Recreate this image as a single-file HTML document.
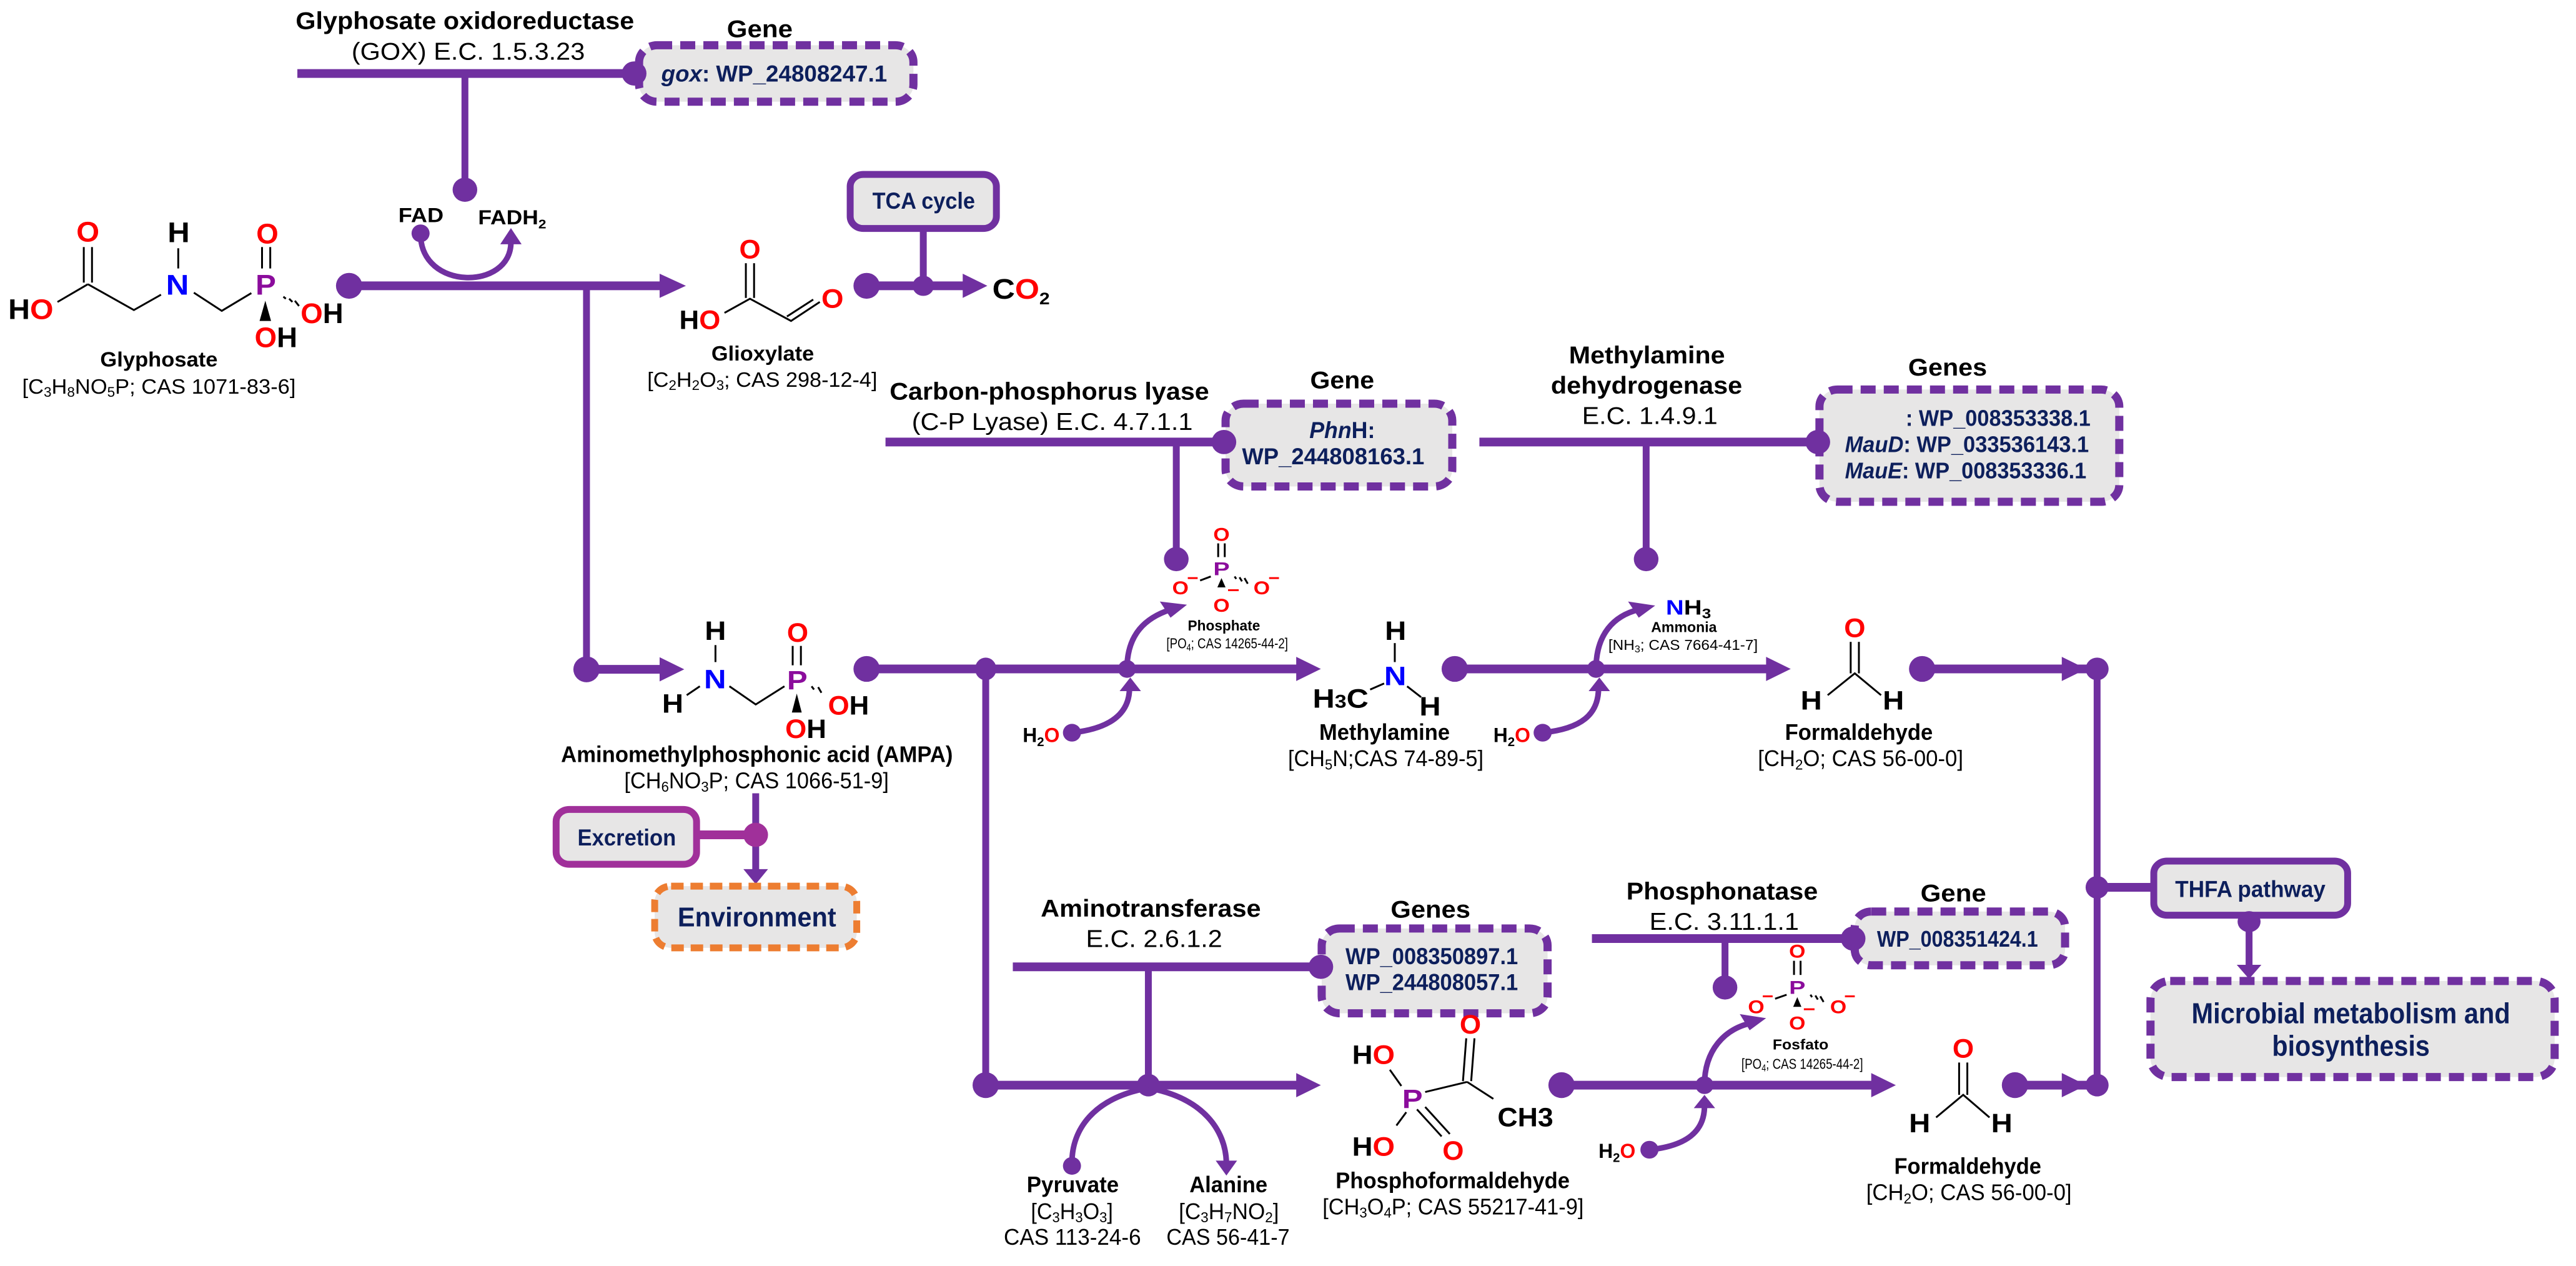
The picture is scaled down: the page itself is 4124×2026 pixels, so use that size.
<!DOCTYPE html>
<html><head><meta charset="utf-8"><style>
html,body{margin:0;padding:0;background:#fff;}
svg{display:block;}
text{font-family:"Liberation Sans",Arial,sans-serif;}
line,path,rect,polyline{vector-effect:non-scaling-stroke;}
.b{font-weight:bold;}
.nv{fill:#0d1f5c;font-weight:bold;}
.r{fill:#ff0000;}
.bl{fill:#0000ff;}
.pp{fill:#8b0c9c;}
.ln{stroke:#7030a0;fill:none;}
.bond{stroke:#000;stroke-width:3;fill:none;}
.pu{fill:#7030a0;}
.db{fill:#e7e6e6;stroke:#7030a0;stroke-width:13;stroke-dasharray:24 13;}
</style></head><body>
<svg width="4124" height="2026" viewBox="0 0 3136 3136" preserveAspectRatio="none" xmlns="http://www.w3.org/2000/svg">
<rect x="0" y="0" width="3136" height="3136" fill="#fff"/>

<!-- ===== GOX enzyme ===== -->
<text x="360" y="72" font-size="60" class="b" textLength="412" lengthAdjust="spacingAndGlyphs">Glyphosate oxidoreductase</text>
<text x="428" y="148" font-size="60" textLength="284" lengthAdjust="spacingAndGlyphs">(GOX) E.C. 1.5.3.23</text>
<text x="885" y="92" font-size="60" class="b" textLength="80" lengthAdjust="spacingAndGlyphs">Gene</text>
<rect x="778" y="112" width="334" height="140" rx="22" ry="42" class="db"/>
<text x="805" y="202" font-size="58" class="nv" textLength="275" lengthAdjust="spacingAndGlyphs"><tspan font-style="italic">gox</tspan>: WP_24808247.1</text>
<line x1="362" y1="182" x2="772" y2="182" class="ln" stroke-width="14"/>
<ellipse cx="772" cy="182" rx="15" ry="30" class="pu"/>
<line x1="566" y1="182" x2="566" y2="465" class="ln" stroke-width="11"/>
<ellipse cx="566" cy="470" rx="15" ry="30" class="pu"/>

<!-- FAD -->
<text x="485" y="550" font-size="50" class="b" textLength="55" lengthAdjust="spacingAndGlyphs">FAD</text>
<text x="582" y="556" font-size="50" class="b" textLength="83" lengthAdjust="spacingAndGlyphs">FADH<tspan font-size="32" dy="10">2</tspan></text>
<ellipse cx="512" cy="578" rx="11" ry="22" class="pu"/>
<path d="M512,580 C512,720 622,720 622,600" class="ln" stroke-width="9"/>
<polygon points="609,605 622,565 635,605" class="pu"/>

<!-- main top line -->
<line x1="425" y1="708" x2="808" y2="708" class="ln" stroke-width="14"/>
<ellipse cx="425" cy="708" rx="16" ry="32" class="pu"/>
<polygon points="803,678 835,708 803,738" class="pu"/>
<line x1="714" y1="708" x2="714" y2="1658" class="ln" stroke-width="11"/>

<!-- Glyphosate molecule -->
<text x="10" y="790" font-size="70" class="b" textLength="55" lengthAdjust="spacingAndGlyphs">H<tspan class="r">O</tspan></text>
<line x1="70" y1="748" x2="107" y2="704" class="bond"/>
<line x1="102" y1="700" x2="102" y2="612" class="bond"/>
<line x1="112" y1="700" x2="112" y2="612" class="bond"/>
<text x="93" y="598" font-size="70" class="b r" textLength="28" lengthAdjust="spacingAndGlyphs">O</text>
<polyline points="107,704 163,768 196,730" class="bond"/>
<text x="202" y="730" font-size="70" class="b bl" textLength="28" lengthAdjust="spacingAndGlyphs">N</text>
<line x1="217" y1="615" x2="217" y2="665" class="bond"/>
<text x="204" y="600" font-size="70" class="b" textLength="27" lengthAdjust="spacingAndGlyphs">H</text>
<polyline points="236,725 270,770 306,726" class="bond"/>
<text x="311" y="730" font-size="70" class="b pp" textLength="25" lengthAdjust="spacingAndGlyphs">P</text>
<line x1="319" y1="612" x2="319" y2="665" class="bond"/>
<line x1="329" y1="612" x2="329" y2="665" class="bond"/>
<text x="312" y="603" font-size="70" class="b r" textLength="27" lengthAdjust="spacingAndGlyphs">O</text>
<line x1="345" y1="735" x2="348" y2="740" class="bond"/>
<line x1="352" y1="740" x2="356" y2="748" class="bond"/>
<line x1="359" y1="745" x2="364" y2="758" class="bond"/>
<text x="366" y="800" font-size="70" class="b" textLength="52" lengthAdjust="spacingAndGlyphs"><tspan class="r">O</tspan>H</text>
<polygon points="323,745 316,795 330,795" fill="#000"/>
<text x="310" y="860" font-size="70" class="b" textLength="52" lengthAdjust="spacingAndGlyphs"><tspan class="r">O</tspan>H</text>
<text x="122" y="908" font-size="52" class="b" textLength="143" lengthAdjust="spacingAndGlyphs">Glyphosate</text>
<text x="27" y="975" font-size="52" textLength="333" lengthAdjust="spacingAndGlyphs">[C<tspan font-size="34" dy="8">3</tspan><tspan dy="-8">H</tspan><tspan font-size="34" dy="8">8</tspan><tspan dy="-8">NO</tspan><tspan font-size="34" dy="8">5</tspan><tspan dy="-8">P; CAS 1071-83-6]</tspan></text>

<!-- Glioxylate -->
<text x="900" y="640" font-size="66" class="b r" textLength="26" lengthAdjust="spacingAndGlyphs">O</text>
<line x1="908" y1="652" x2="908" y2="738" class="bond"/>
<line x1="918" y1="652" x2="918" y2="738" class="bond"/>
<polyline points="882,775 913,740 963,795 998,748" class="bond"/>
<line x1="958" y1="784" x2="990" y2="742" class="bond"/>
<text x="827" y="815" font-size="66" class="b" textLength="50" lengthAdjust="spacingAndGlyphs">H<tspan class="r">O</tspan></text>
<text x="1000" y="762" font-size="66" class="b r" textLength="27" lengthAdjust="spacingAndGlyphs">O</text>
<text x="866" y="893" font-size="52" class="b" textLength="125" lengthAdjust="spacingAndGlyphs">Glioxylate</text>
<text x="788" y="958" font-size="52" textLength="280" lengthAdjust="spacingAndGlyphs">[C<tspan font-size="34" dy="8">2</tspan><tspan dy="-8">H</tspan><tspan font-size="34" dy="8">2</tspan><tspan dy="-8">O</tspan><tspan font-size="34" dy="8">3</tspan><tspan dy="-8">; CAS 298-12-4]</tspan></text>

<!-- TCA -->
<rect x="1035" y="432" width="178" height="134" rx="16" ry="30" fill="#e7e6e6" stroke="#7030a0" stroke-width="11"/>
<text x="1062" y="517" font-size="58" class="nv" textLength="125" lengthAdjust="spacingAndGlyphs">TCA cycle</text>
<line x1="1124" y1="566" x2="1124" y2="708" class="ln" stroke-width="11"/>
<line x1="1055" y1="708" x2="1178" y2="708" class="ln" stroke-width="14"/>
<ellipse cx="1055" cy="708" rx="16" ry="32" class="pu"/>
<ellipse cx="1124" cy="708" rx="13" ry="25" class="pu"/>
<polygon points="1172,678 1202,708 1172,738" class="pu"/>
<text x="1208" y="740" font-size="70" class="b" textLength="70" lengthAdjust="spacingAndGlyphs">C<tspan class="r">O</tspan><tspan font-size="42" dy="14">2</tspan></text>

<!-- C-P lyase -->
<text x="1083" y="990" font-size="60" class="b" textLength="389" lengthAdjust="spacingAndGlyphs">Carbon-phosphorus lyase</text>
<text x="1110" y="1065" font-size="60" textLength="342" lengthAdjust="spacingAndGlyphs">(C-P Lyase) E.C. 4.7.1.1</text>
<text x="1595" y="962" font-size="60" class="b" textLength="78" lengthAdjust="spacingAndGlyphs">Gene</text>
<rect x="1492" y="1000" width="276" height="205" rx="22" ry="42" class="db"/>
<text x="1594" y="1085" font-size="58" class="nv" textLength="80" lengthAdjust="spacingAndGlyphs"><tspan font-style="italic">Phn</tspan>H:</text>
<text x="1512" y="1150" font-size="58" class="nv" textLength="222" lengthAdjust="spacingAndGlyphs">WP_244808163.1</text>
<line x1="1078" y1="1095" x2="1490" y2="1095" class="ln" stroke-width="14"/>
<ellipse cx="1490" cy="1095" rx="15" ry="30" class="pu"/>
<line x1="1432" y1="1095" x2="1432" y2="1380" class="ln" stroke-width="11"/>
<ellipse cx="1432" cy="1385" rx="15" ry="30" class="pu"/>

<!-- Phosphate -->
<text x="1477" y="1340" font-size="46" class="b r" textLength="20" lengthAdjust="spacingAndGlyphs">O</text>
<line x1="1483" y1="1346" x2="1483" y2="1380" class="bond" stroke-width="2"/>
<line x1="1491" y1="1346" x2="1491" y2="1380" class="bond" stroke-width="2"/>
<text x="1477" y="1425" font-size="46" class="b pp" textLength="20" lengthAdjust="spacingAndGlyphs">P</text>
<text x="1427" y="1472" font-size="46" class="b r" textLength="20" lengthAdjust="spacingAndGlyphs">O</text>
<line x1="1446" y1="1432" x2="1458" y2="1432" stroke="#f00" stroke-width="3"/>
<line x1="1461" y1="1438" x2="1474" y2="1428" class="bond" stroke-width="2"/>
<text x="1526" y="1472" font-size="46" class="b r" textLength="20" lengthAdjust="spacingAndGlyphs">O</text>
<line x1="1545" y1="1432" x2="1557" y2="1432" stroke="#f00" stroke-width="3"/>
<line x1="1503" y1="1428" x2="1505" y2="1434" class="bond" stroke-width="2"/>
<line x1="1509" y1="1430" x2="1512" y2="1440" class="bond" stroke-width="2"/>
<line x1="1515" y1="1432" x2="1519" y2="1446" class="bond" stroke-width="2"/>
<polygon points="1487,1432 1482,1455 1492,1455" fill="#000"/>
<line x1="1495" y1="1462" x2="1508" y2="1462" stroke="#f00" stroke-width="3"/>
<text x="1477" y="1515" font-size="46" class="b r" textLength="20" lengthAdjust="spacingAndGlyphs">O</text>
<text x="1446" y="1562" font-size="36" class="b" textLength="88" lengthAdjust="spacingAndGlyphs">Phosphate</text>
<text x="1420" y="1606" font-size="36" textLength="148" lengthAdjust="spacingAndGlyphs">[PO<tspan font-size="24" dy="6">4</tspan><tspan dy="-6">; CAS 14265-44-2]</tspan></text>

<!-- Methylamine dehydrogenase -->
<text x="1910" y="900" font-size="60" class="b" textLength="190" lengthAdjust="spacingAndGlyphs">Methylamine</text>
<text x="1888" y="975" font-size="60" class="b" textLength="233" lengthAdjust="spacingAndGlyphs">dehydrogenase</text>
<text x="1926" y="1050" font-size="60" textLength="165" lengthAdjust="spacingAndGlyphs">E.C. 1.4.9.1</text>
<text x="2323" y="930" font-size="60" class="b" textLength="96" lengthAdjust="spacingAndGlyphs">Genes</text>
<rect x="2215" y="965" width="365" height="278" rx="22" ry="42" class="db"/>
<text x="2320" y="1055" font-size="56" class="nv" textLength="225" lengthAdjust="spacingAndGlyphs">: WP_008353338.1</text>
<text x="2246" y="1120" font-size="56" class="nv" textLength="297" lengthAdjust="spacingAndGlyphs"><tspan font-style="italic">MauD</tspan>: WP_033536143.1</text>
<text x="2246" y="1185" font-size="56" class="nv" textLength="294" lengthAdjust="spacingAndGlyphs"><tspan font-style="italic">MauE</tspan>: WP_008353336.1</text>
<line x1="1801" y1="1095" x2="2213" y2="1095" class="ln" stroke-width="14"/>
<ellipse cx="2213" cy="1095" rx="15" ry="30" class="pu"/>
<line x1="2004" y1="1095" x2="2004" y2="1380" class="ln" stroke-width="11"/>
<ellipse cx="2004" cy="1385" rx="15" ry="30" class="pu"/>

<!-- NH3 -->
<text x="2028" y="1522" font-size="52" class="b" textLength="55" lengthAdjust="spacingAndGlyphs"><tspan class="bl">N</tspan>H<tspan font-size="34" dy="10">3</tspan></text>
<text x="2010" y="1566" font-size="36" class="b" textLength="80" lengthAdjust="spacingAndGlyphs">Ammonia</text>
<text x="1958" y="1610" font-size="36" textLength="182" lengthAdjust="spacingAndGlyphs">[NH<tspan font-size="24" dy="6">3</tspan><tspan dy="-6">; CAS 7664-41-7]</tspan></text>

<!-- ===== AMPA row ===== -->
<ellipse cx="714" cy="1658" rx="16" ry="32" class="pu"/>
<line x1="714" y1="1658" x2="808" y2="1658" class="ln" stroke-width="14"/>
<polygon points="803,1628 833,1658 803,1688" class="pu"/>
<text x="858" y="1585" font-size="66" class="b" textLength="26" lengthAdjust="spacingAndGlyphs">H</text>
<line x1="871" y1="1598" x2="871" y2="1640" class="bond"/>
<text x="857" y="1705" font-size="66" class="b bl" textLength="27" lengthAdjust="spacingAndGlyphs">N</text>
<line x1="852" y1="1700" x2="836" y2="1722" class="bond"/>
<text x="806" y="1765" font-size="66" class="b" textLength="26" lengthAdjust="spacingAndGlyphs">H</text>
<polyline points="888,1700 920,1745 955,1700" class="bond"/>
<text x="958" y="1708" font-size="66" class="b pp" textLength="25" lengthAdjust="spacingAndGlyphs">P</text>
<line x1="965" y1="1600" x2="965" y2="1648" class="bond"/>
<line x1="975" y1="1600" x2="975" y2="1648" class="bond"/>
<text x="958" y="1590" font-size="66" class="b r" textLength="26" lengthAdjust="spacingAndGlyphs">O</text>
<line x1="988" y1="1700" x2="991" y2="1708" class="bond"/>
<line x1="996" y1="1702" x2="1000" y2="1716" class="bond"/>
<text x="1008" y="1770" font-size="66" class="b" textLength="50" lengthAdjust="spacingAndGlyphs"><tspan class="r">O</tspan>H</text>
<polygon points="970,1718 964,1765 976,1765" fill="#000"/>
<text x="956" y="1828" font-size="66" class="b" textLength="50" lengthAdjust="spacingAndGlyphs"><tspan class="r">O</tspan>H</text>
<text x="683" y="1888" font-size="56" class="b" textLength="477" lengthAdjust="spacingAndGlyphs">Aminomethylphosphonic acid (AMPA)</text>
<text x="760" y="1953" font-size="56" textLength="322" lengthAdjust="spacingAndGlyphs">[CH<tspan font-size="36" dy="8">6</tspan><tspan dy="-8">NO</tspan><tspan font-size="36" dy="8">3</tspan><tspan dy="-8">P; CAS 1066-51-9]</tspan></text>

<!-- Excretion / Environment -->
<line x1="920" y1="1965" x2="920" y2="2160" class="ln" stroke-width="11"/>
<polygon points="905,2153 920,2190 935,2153" class="pu"/>
<rect x="677" y="2005" width="171" height="136" rx="16" ry="30" fill="#e7e6e6" stroke="#a0309a" stroke-width="11"/>
<text x="703" y="2094" font-size="58" class="nv" textLength="120" lengthAdjust="spacingAndGlyphs">Excretion</text>
<line x1="848" y1="2068" x2="920" y2="2068" stroke="#a0309a" stroke-width="14"/>
<ellipse cx="920" cy="2068" rx="15" ry="30" fill="#a0309a"/>
<rect x="797" y="2195" width="246" height="153" rx="20" ry="38" fill="#e7e6e6" stroke="#ed7d31" stroke-width="11" stroke-dasharray="20 11"/>
<text x="825" y="2295" font-size="68" class="nv" textLength="193" lengthAdjust="spacingAndGlyphs">Environment</text>

<!-- upper main line -->
<line x1="1055" y1="1657" x2="1585" y2="1657" class="ln" stroke-width="14"/>
<ellipse cx="1055" cy="1657" rx="16" ry="32" class="pu"/>
<ellipse cx="1200" cy="1657" rx="13" ry="28" class="pu"/>
<ellipse cx="1372" cy="1657" rx="11" ry="22" class="pu"/>
<polygon points="1578,1627 1608,1657 1578,1687" class="pu"/>
<line x1="1200" y1="1657" x2="1200" y2="2688" class="ln" stroke-width="11"/>

<text x="1245" y="1838" font-size="50" class="b" textLength="45" lengthAdjust="spacingAndGlyphs">H<tspan font-size="32" dy="10">2</tspan><tspan class="r" dy="-10">O</tspan></text>
<ellipse cx="1305" cy="1815" rx="11" ry="22" class="pu"/>
<path d="M1305,1815 C1350,1805 1375,1770 1375,1705" class="ln" stroke-width="9"/>
<polygon points="1363,1712 1376,1678 1389,1712" class="pu"/>
<path d="M1372,1657 C1372,1570 1395,1530 1425,1510" class="ln" stroke-width="9"/>
<polygon points="1412,1490 1445,1498 1425,1530" class="pu"/>

<!-- Methylamine -->
<text x="1686" y="1585" font-size="66" class="b" textLength="26" lengthAdjust="spacingAndGlyphs">H</text>
<line x1="1698" y1="1593" x2="1698" y2="1640" class="bond"/>
<text x="1685" y="1697" font-size="66" class="b bl" textLength="27" lengthAdjust="spacingAndGlyphs">N</text>
<text x="1598" y="1753" font-size="66" class="b" textLength="68" lengthAdjust="spacingAndGlyphs">H<tspan font-size="46">3</tspan>C</text>
<line x1="1668" y1="1708" x2="1685" y2="1693" class="bond"/>
<line x1="1713" y1="1700" x2="1730" y2="1727" class="bond"/>
<text x="1728" y="1772" font-size="66" class="b" textLength="26" lengthAdjust="spacingAndGlyphs">H</text>
<text x="1606" y="1833" font-size="56" class="b" textLength="159" lengthAdjust="spacingAndGlyphs">Methylamine</text>
<text x="1568" y="1898" font-size="56" textLength="238" lengthAdjust="spacingAndGlyphs">[CH<tspan font-size="36" dy="8">5</tspan><tspan dy="-8">N;CAS 74-89-5]</tspan></text>

<line x1="1771" y1="1657" x2="2155" y2="1657" class="ln" stroke-width="14"/>
<ellipse cx="1771" cy="1657" rx="16" ry="32" class="pu"/>
<ellipse cx="1943" cy="1657" rx="11" ry="22" class="pu"/>
<polygon points="2150,1627 2180,1657 2150,1687" class="pu"/>
<text x="1818" y="1838" font-size="50" class="b" textLength="45" lengthAdjust="spacingAndGlyphs">H<tspan font-size="32" dy="10">2</tspan><tspan class="r" dy="-10">O</tspan></text>
<ellipse cx="1878" cy="1815" rx="11" ry="22" class="pu"/>
<path d="M1878,1815 C1925,1805 1946,1770 1946,1705" class="ln" stroke-width="9"/>
<polygon points="1934,1712 1947,1678 1960,1712" class="pu"/>
<path d="M1943,1657 C1943,1570 1965,1525 1995,1510" class="ln" stroke-width="9"/>
<polygon points="1982,1490 2015,1500 1995,1530" class="pu"/>

<!-- Formaldehyde upper -->
<text x="2245" y="1578" font-size="66" class="b r" textLength="26" lengthAdjust="spacingAndGlyphs">O</text>
<line x1="2253" y1="1590" x2="2253" y2="1668" class="bond"/>
<line x1="2263" y1="1590" x2="2263" y2="1668" class="bond"/>
<polyline points="2225,1722 2258,1668 2290,1722" class="bond"/>
<text x="2192" y="1758" font-size="66" class="b" textLength="26" lengthAdjust="spacingAndGlyphs">H</text>
<text x="2292" y="1758" font-size="66" class="b" textLength="26" lengthAdjust="spacingAndGlyphs">H</text>
<text x="2173" y="1833" font-size="56" class="b" textLength="180" lengthAdjust="spacingAndGlyphs">Formaldehyde</text>
<text x="2140" y="1898" font-size="56" textLength="250" lengthAdjust="spacingAndGlyphs">[CH<tspan font-size="36" dy="8">2</tspan><tspan dy="-8">O; CAS 56-00-0]</tspan></text>

<line x1="2340" y1="1657" x2="2545" y2="1657" class="ln" stroke-width="14"/>
<ellipse cx="2340" cy="1657" rx="16" ry="32" class="pu"/>
<polygon points="2510,1627 2540,1657 2510,1687" class="pu"/>
<line x1="2553" y1="1657" x2="2553" y2="2688" class="ln" stroke-width="11"/>
<ellipse cx="2553" cy="1657" rx="14" ry="28" class="pu"/>
<ellipse cx="2553" cy="2198" rx="14" ry="28" class="pu"/>
<ellipse cx="2553" cy="2688" rx="14" ry="28" class="pu"/>

<!-- THFA -->
<line x1="2553" y1="2198" x2="2622" y2="2198" class="ln" stroke-width="14"/>
<rect x="2622" y="2133" width="236" height="134" rx="16" ry="30" fill="#e7e6e6" stroke="#7030a0" stroke-width="11"/>
<text x="2648" y="2222" font-size="58" class="nv" textLength="183" lengthAdjust="spacingAndGlyphs">THFA pathway</text>
<ellipse cx="2738" cy="2283" rx="14" ry="26" class="pu"/>
<line x1="2738" y1="2283" x2="2738" y2="2400" class="ln" stroke-width="11"/>
<polygon points="2723,2390 2738,2425 2753,2390" class="pu"/>
<rect x="2618" y="2430" width="492" height="238" rx="24" ry="46" class="db"/>
<text x="2668" y="2535" font-size="72" class="nv" textLength="388" lengthAdjust="spacingAndGlyphs">Microbial metabolism and</text>
<text x="2766" y="2615" font-size="72" class="nv" textLength="192" lengthAdjust="spacingAndGlyphs">biosynthesis</text>

<!-- ===== Aminotransferase ===== -->
<text x="1267" y="2271" font-size="60" class="b" textLength="268" lengthAdjust="spacingAndGlyphs">Aminotransferase</text>
<text x="1322" y="2346" font-size="60" textLength="166" lengthAdjust="spacingAndGlyphs">E.C. 2.6.1.2</text>
<text x="1693" y="2273" font-size="60" class="b" textLength="97" lengthAdjust="spacingAndGlyphs">Genes</text>
<rect x="1609" y="2300" width="275" height="210" rx="22" ry="42" class="db"/>
<text x="1638" y="2388" font-size="58" class="nv" textLength="210" lengthAdjust="spacingAndGlyphs">WP_008350897.1</text>
<text x="1638" y="2453" font-size="58" class="nv" textLength="210" lengthAdjust="spacingAndGlyphs">WP_244808057.1</text>
<line x1="1233" y1="2395" x2="1608" y2="2395" class="ln" stroke-width="14"/>
<ellipse cx="1608" cy="2395" rx="15" ry="30" class="pu"/>
<line x1="1398" y1="2395" x2="1398" y2="2688" class="ln" stroke-width="11"/>

<!-- lower main line -->
<line x1="1200" y1="2688" x2="1585" y2="2688" class="ln" stroke-width="14"/>
<ellipse cx="1200" cy="2688" rx="16" ry="32" class="pu"/>
<ellipse cx="1398" cy="2688" rx="14" ry="28" class="pu"/>
<polygon points="1578,2658 1608,2688 1578,2718" class="pu"/>
<path d="M1398,2695 C1330,2720 1305,2800 1305,2880" class="ln" stroke-width="9"/>
<ellipse cx="1305" cy="2888" rx="11" ry="22" class="pu"/>
<path d="M1398,2695 C1465,2720 1492,2800 1493,2880" class="ln" stroke-width="9"/>
<polygon points="1480,2875 1493,2912 1506,2875" class="pu"/>
<text x="1250" y="2953" font-size="56" class="b" textLength="112" lengthAdjust="spacingAndGlyphs">Pyruvate</text>
<text x="1255" y="3020" font-size="56" textLength="100" lengthAdjust="spacingAndGlyphs">[C<tspan font-size="36" dy="8">3</tspan><tspan dy="-8">H</tspan><tspan font-size="36" dy="8">3</tspan><tspan dy="-8">O</tspan><tspan font-size="36" dy="8">3</tspan><tspan dy="-8">]</tspan></text>
<text x="1222" y="3083" font-size="56" textLength="167" lengthAdjust="spacingAndGlyphs">CAS 113-24-6</text>
<text x="1448" y="2953" font-size="56" class="b" textLength="95" lengthAdjust="spacingAndGlyphs">Alanine</text>
<text x="1435" y="3020" font-size="56" textLength="122" lengthAdjust="spacingAndGlyphs">[C<tspan font-size="36" dy="8">3</tspan><tspan dy="-8">H</tspan><tspan font-size="36" dy="8">7</tspan><tspan dy="-8">NO</tspan><tspan font-size="36" dy="8">2</tspan><tspan dy="-8">]</tspan></text>
<text x="1420" y="3083" font-size="56" textLength="150" lengthAdjust="spacingAndGlyphs">CAS 56-41-7</text>

<!-- Phosphoformaldehyde -->
<text x="1777" y="2560" font-size="66" class="b r" textLength="26" lengthAdjust="spacingAndGlyphs">O</text>
<line x1="1785" y1="2572" x2="1781" y2="2678" class="bond"/>
<line x1="1795" y1="2572" x2="1791" y2="2678" class="bond"/>
<text x="1646" y="2635" font-size="66" class="b" textLength="52" lengthAdjust="spacingAndGlyphs">H<tspan class="r">O</tspan></text>
<line x1="1692" y1="2650" x2="1706" y2="2690" class="bond"/>
<text x="1707" y="2745" font-size="66" class="b pp" textLength="25" lengthAdjust="spacingAndGlyphs">P</text>
<line x1="1735" y1="2705" x2="1786" y2="2680" class="bond"/>
<line x1="1786" y1="2680" x2="1818" y2="2722" class="bond"/>
<text x="1823" y="2790" font-size="66" class="b" textLength="68" lengthAdjust="spacingAndGlyphs">CH3</text>
<line x1="1712" y1="2755" x2="1700" y2="2788" class="bond"/>
<text x="1646" y="2863" font-size="66" class="b" textLength="52" lengthAdjust="spacingAndGlyphs">H<tspan class="r">O</tspan></text>
<line x1="1725" y1="2748" x2="1755" y2="2815" class="bond"/>
<line x1="1735" y1="2742" x2="1765" y2="2809" class="bond"/>
<text x="1756" y="2873" font-size="66" class="b r" textLength="26" lengthAdjust="spacingAndGlyphs">O</text>
<text x="1626" y="2943" font-size="56" class="b" textLength="285" lengthAdjust="spacingAndGlyphs">Phosphoformaldehyde</text>
<text x="1610" y="3008" font-size="56" textLength="318" lengthAdjust="spacingAndGlyphs">[CH<tspan font-size="36" dy="8">3</tspan><tspan dy="-8">O</tspan><tspan font-size="36" dy="8">4</tspan><tspan dy="-8">P; CAS 55217-41-9]</tspan></text>

<!-- Phosphonatase -->
<text x="1980" y="2228" font-size="60" class="b" textLength="233" lengthAdjust="spacingAndGlyphs">Phosphonatase</text>
<text x="2008" y="2303" font-size="60" textLength="182" lengthAdjust="spacingAndGlyphs">E.C. 3.11.1.1</text>
<text x="2338" y="2233" font-size="60" class="b" textLength="80" lengthAdjust="spacingAndGlyphs">Gene</text>
<rect x="2258" y="2258" width="256" height="133" rx="20" ry="38" class="db"/>
<text x="2285" y="2345" font-size="56" class="nv" textLength="196" lengthAdjust="spacingAndGlyphs">WP_008351424.1</text>
<line x1="1938" y1="2325" x2="2256" y2="2325" class="ln" stroke-width="14"/>
<ellipse cx="2256" cy="2325" rx="15" ry="30" class="pu"/>
<line x1="2100" y1="2325" x2="2100" y2="2440" class="ln" stroke-width="11"/>
<ellipse cx="2100" cy="2446" rx="15" ry="30" class="pu"/>

<!-- Fosfato -->
<text x="2178" y="2372" font-size="46" class="b r" textLength="20" lengthAdjust="spacingAndGlyphs">O</text>
<line x1="2184" y1="2380" x2="2184" y2="2415" class="bond" stroke-width="2"/>
<line x1="2192" y1="2380" x2="2192" y2="2415" class="bond" stroke-width="2"/>
<text x="2178" y="2462" font-size="46" class="b pp" textLength="20" lengthAdjust="spacingAndGlyphs">P</text>
<text x="2128" y="2510" font-size="46" class="b r" textLength="20" lengthAdjust="spacingAndGlyphs">O</text>
<line x1="2146" y1="2468" x2="2158" y2="2468" stroke="#f00" stroke-width="3"/>
<line x1="2161" y1="2474" x2="2175" y2="2464" class="bond" stroke-width="2"/>
<line x1="2204" y1="2464" x2="2206" y2="2470" class="bond" stroke-width="2"/>
<line x1="2210" y1="2466" x2="2213" y2="2476" class="bond" stroke-width="2"/>
<line x1="2216" y1="2468" x2="2220" y2="2482" class="bond" stroke-width="2"/>
<text x="2228" y="2510" font-size="46" class="b r" textLength="20" lengthAdjust="spacingAndGlyphs">O</text>
<line x1="2246" y1="2468" x2="2258" y2="2468" stroke="#f00" stroke-width="3"/>
<polygon points="2188,2470 2183,2494 2193,2494" fill="#000"/>
<line x1="2196" y1="2500" x2="2209" y2="2500" stroke="#f00" stroke-width="3"/>
<text x="2178" y="2550" font-size="46" class="b r" textLength="20" lengthAdjust="spacingAndGlyphs">O</text>
<text x="2158" y="2600" font-size="36" class="b" textLength="68" lengthAdjust="spacingAndGlyphs">Fosfato</text>
<text x="2120" y="2648" font-size="36" textLength="148" lengthAdjust="spacingAndGlyphs">[PO<tspan font-size="24" dy="6">4</tspan><tspan dy="-6">; CAS 14265-44-2]</tspan></text>

<line x1="1901" y1="2688" x2="2285" y2="2688" class="ln" stroke-width="14"/>
<ellipse cx="1901" cy="2688" rx="16" ry="32" class="pu"/>
<ellipse cx="2075" cy="2688" rx="11" ry="22" class="pu"/>
<polygon points="2278,2658 2308,2688 2278,2718" class="pu"/>
<text x="1946" y="2868" font-size="50" class="b" textLength="45" lengthAdjust="spacingAndGlyphs">H<tspan font-size="32" dy="10">2</tspan><tspan class="r" dy="-10">O</tspan></text>
<ellipse cx="2008" cy="2848" rx="11" ry="22" class="pu"/>
<path d="M2008,2848 C2055,2838 2075,2800 2075,2740" class="ln" stroke-width="9"/>
<polygon points="2062,2745 2075,2712 2088,2745" class="pu"/>
<path d="M2075,2688 C2075,2600 2100,2550 2130,2535" class="ln" stroke-width="9"/>
<polygon points="2118,2512 2150,2522 2130,2552" class="pu"/>

<!-- Formaldehyde lower -->
<text x="2377" y="2620" font-size="66" class="b r" textLength="26" lengthAdjust="spacingAndGlyphs">O</text>
<line x1="2385" y1="2632" x2="2385" y2="2712" class="bond"/>
<line x1="2395" y1="2632" x2="2395" y2="2712" class="bond"/>
<polyline points="2357,2768 2390,2712 2422,2768" class="bond"/>
<text x="2324" y="2805" font-size="66" class="b" textLength="26" lengthAdjust="spacingAndGlyphs">H</text>
<text x="2424" y="2805" font-size="66" class="b" textLength="26" lengthAdjust="spacingAndGlyphs">H</text>
<text x="2306" y="2908" font-size="56" class="b" textLength="179" lengthAdjust="spacingAndGlyphs">Formaldehyde</text>
<text x="2272" y="2973" font-size="56" textLength="250" lengthAdjust="spacingAndGlyphs">[CH<tspan font-size="36" dy="8">2</tspan><tspan dy="-8">O; CAS 56-00-0]</tspan></text>

<line x1="2453" y1="2688" x2="2545" y2="2688" class="ln" stroke-width="14"/>
<ellipse cx="2453" cy="2688" rx="16" ry="32" class="pu"/>
<polygon points="2510,2658 2540,2688 2510,2718" class="pu"/>
</svg>
</body></html>
